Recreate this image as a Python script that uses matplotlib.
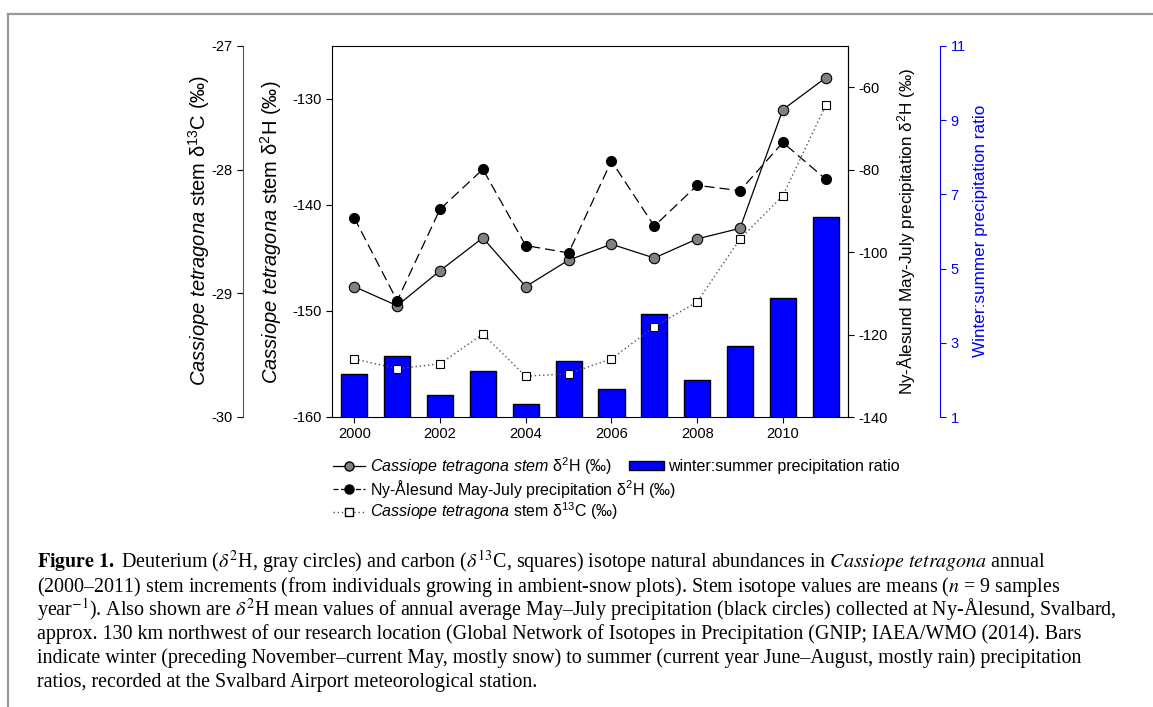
import matplotlib
matplotlib.use('Agg')
import matplotlib.pyplot as plt
from matplotlib.lines import Line2D
from matplotlib.patches import Patch

# Données
years = [2000, 2001, 2002, 2003, 2004, 2005, 2006, 2007, 2008, 2009, 2010, 2011]
h_stem = [-147.7, -149.5, -146.2, -143.1, -147.7, -145.2, -143.7, -145.0, -143.2, -142.2, -131.0, -128.0]
h_precip = [-91.7, -111.8, -89.6, -79.9, -98.4, -100.2, -77.9, -93.7, -83.8, -85.1, -73.4, -82.3]
c_stem = [-29.53, -29.61, -29.57, -29.33, -29.67, -29.65, -29.53, -29.27, -29.07, -28.56, -28.21, -27.48]
ratio = [2.15, 2.64, 1.59, 2.25, 1.34, 2.51, 1.75, 3.77, 1.99, 2.91, 4.22, 6.40]

xtick_years = [2000, 2002, 2004, 2006, 2008, 2010]

caption = [
    r"$\mathbf{Figure\ 1.}$ Deuterium ($\delta^{2}$H, gray circles) and carbon ($\delta^{13}$C, squares) isotope natural abundances in $\mathit{Cassiope\ tetragona}$ annual",
    r"(2000–2011) stem increments (from individuals growing in ambient-snow plots). Stem isotope values are means ($n$ = 9 samples",
    r"year$^{-1}$). Also shown are $\delta^{2}$H mean values of annual average May–July precipitation (black circles) collected at Ny-Ålesund, Svalbard,",
    "approx. 130 km northwest of our research location (Global Network of Isotopes in Precipitation (GNIP; IAEA/WMO (2014). Bars",
    "indicate winter (preceding November–current May, mostly snow) to summer (current year June–August, mostly rain) precipitation",
    "ratios, recorded at the Svalbard Airport meteorological station.",
]

plt.rcParams['font.family'] = ['Liberation Sans', 'DejaVu Sans']
plt.rcParams['axes.unicode_minus'] = False
plt.rcParams['mathtext.fontset'] = 'custom'
plt.rcParams['mathtext.rm'] = 'Liberation Sans'
plt.rcParams['mathtext.it'] = 'Liberation Sans:italic'
plt.rcParams['mathtext.bf'] = 'Liberation Sans:bold'

W, H = 1153, 707
fig = plt.figure(figsize=(W / 100, H / 100), dpi=100)

# cadre gris de la page
fig.add_artist(Line2D([8 / W, 1], [1 - 14 / H, 1 - 14 / H], color='#999999', lw=1.6, transform=fig.transFigure))
fig.add_artist(Line2D([8 / W, 8 / W], [0, 1 - 14 / H], color='#999999', lw=1.6, transform=fig.transFigure))

ax = fig.add_axes([332 / W, 1 - 417 / H, (848 - 332) / W, (417 - 46) / H])
ax_bar = ax.twinx()
ax_ny = ax.twinx()
ax_c = ax.twinx()

for i, a in enumerate([ax_bar, ax, ax_ny, ax_c]):
    a.set_zorder(i + 1)
    a.patch.set_visible(False)

# Barres : rapport hiver/été
ax_bar.bar(years, ratio, width=0.61, color='#0000ff', edgecolor='black', linewidth=1)
ax_bar.set_ylim(1, 11)
ax_bar.set_yticks([1, 3, 5, 7, 9, 11])
for s in ax_bar.spines.values():
    s.set_visible(False)
ax_bar.spines['right'].set_visible(True)
ax_bar.spines['right'].set_position(('axes', (940 - 332) / (848 - 332)))
ax_bar.spines['right'].set_color('#0000ff')
ax_bar.tick_params(axis='y', colors='#0000ff', labelsize=10.5, length=4)

# δ2H tige
ax.plot(years, h_stem, color='black', lw=0.9, marker='o', ms=7.5, mfc='#808080', mec='black', mew=0.8)
ax.set_ylim(-160, -125)
ax.set_yticks([-160, -150, -140, -130])
ax.set_xlim(1999.48, 2011.52)
ax.set_xticks(xtick_years)
ax.tick_params(labelsize=10.5, length=4)

# δ2H précipitations Ny-Ålesund
ax_ny.plot(years, h_precip, color='black', lw=0.9, ls=(0, (8, 4)), marker='o', ms=7, mfc='black', mec='black')
ax_ny.set_ylim(-140, -50)
ax_ny.set_yticks([-140, -120, -100, -80, -60])
for s in ax_ny.spines.values():
    s.set_visible(False)
ax_ny.spines['right'].set_visible(True)
ax_ny.tick_params(labelsize=10.5, length=4)

# δ13C tige
ax_c.plot(years, c_stem, color='#555555', lw=1, ls=(0, (1, 2)), marker='s', ms=6, mfc='white', mec='black', mew=0.8)
ax_c.set_ylim(-30, -27)
ax_c.set_yticks([-30, -29, -28, -27])
for s in ax_c.spines.values():
    s.set_visible(False)
ax_c.yaxis.tick_left()
ax_c.spines['left'].set_visible(True)
ax_c.spines['left'].set_position(('axes', (243 - 332) / (848 - 332)))
ax_c.spines['left'].set_color('#555555')
ax_c.tick_params(labelsize=10.5, length=4)

# Titres des axes
fig.text(199 / W, 1 - 230 / H, r"$\mathit{Cassiope\ tetragona}$ stem δ$^{13}$C (‰)",
         rotation=90, ha='center', va='center', fontsize=14.5)
fig.text(271 / W, 1 - 232 / H, r"$\mathit{Cassiope\ tetragona}$ stem δ$^{2}$H (‰)",
         rotation=90, ha='center', va='center', fontsize=14.5)
fig.text(907 / W, 1 - 231 / H, r"Ny-Ålesund May-July precipitation δ$^{2}$H (‰)",
         rotation=90, ha='center', va='center', fontsize=12.3)
fig.text(980 / W, 1 - 231 / H, "Winter:summer precipitation ratio",
         rotation=90, ha='center', va='center', fontsize=12.3, color='#0000ff')

# Légende
h1 = Line2D([], [], color='black', lw=0.9, marker='o', ms=6.5, mfc='#808080', mec='black')
h2 = Line2D([], [], color='black', lw=0.9, ls=(0, (4, 2)), marker='o', ms=6.5, mfc='black', mec='black')
h3 = Line2D([], [], color='#555555', lw=1, ls=(0, (1, 2)), marker='s', ms=5.5, mfc='white', mec='black')
fig.legend([h1, h2, h3],
           [r"$\mathit{Cassiope\ tetragona\ stem}$ δ$^{2}$H (‰)",
            r"Ny-Ålesund May-July precipitation δ$^{2}$H (‰)",
            r"$\mathit{Cassiope\ tetragona}$ stem δ$^{13}$C (‰)"],
           loc='upper left', bbox_to_anchor=(333 / W, 1 - 455 / H), frameon=False, fontsize=11.5,
           handlelength=2.0, handletextpad=0.3, labelspacing=0.06, borderpad=0, borderaxespad=0)
fig.legend([Patch(facecolor='#0000ff', edgecolor='black')], ['winter:summer precipitation ratio'],
           loc='upper left', bbox_to_anchor=(629 / W, 1 - 459 / H), frameon=False, fontsize=11.5,
           handlelength=2.2, handleheight=0.55, handletextpad=0.25, borderpad=0, borderaxespad=0)

# Légende de la figure
for k, line in enumerate(caption):
    fig.text(37 / W, 1 - (568 + 23.8 * k) / H, line, fontsize=14.4, va='baseline', ha='left',
             family='Liberation Serif', math_fontfamily='stix')

fig.savefig('out.png', dpi=100)
